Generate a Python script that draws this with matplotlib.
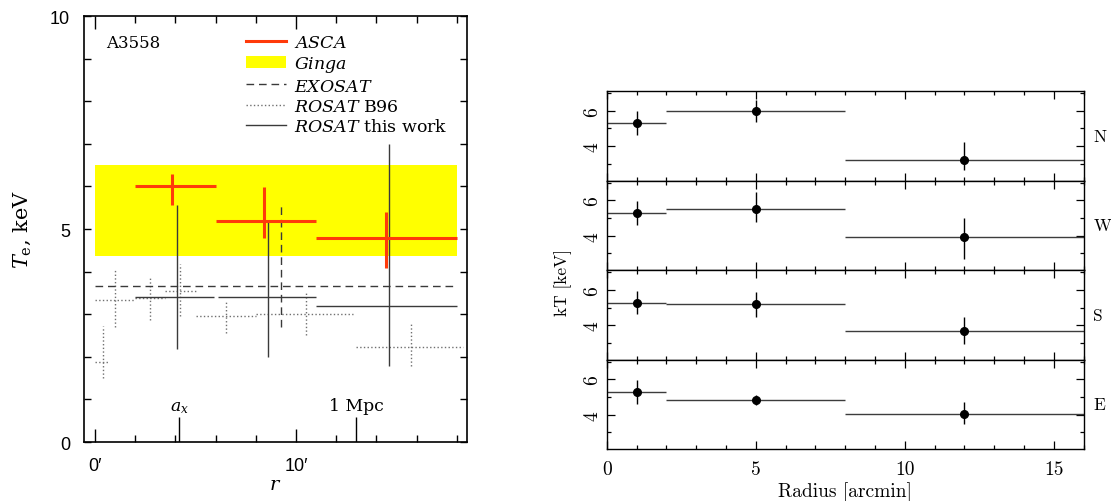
import matplotlib
matplotlib.use("Agg")
import matplotlib.pyplot as plt
import numpy as np
from matplotlib.lines import Line2D
from matplotlib.patches import Patch

plt.rcParams["mathtext.fontset"] = "dejavuserif"

# ---- left panel: A3558 temperature profiles (r in arcmin, T in keV) ----
# ASCA
asca_r = [3.85, 8.4, 14.45]
asca_rlo = [2.0, 6.0, 11.0]
asca_rhi = [6.0, 11.0, 18.0]
asca_t = [6.0, 5.18, 4.78]
asca_tlo = [5.57, 4.78, 4.08]
asca_thi = [6.29, 5.98, 5.39]

# Ginga band
ginga_r = [0.0, 18.0]
ginga_tlo = 4.37
ginga_thi = 6.5

# EXOSAT
exo_r = [9.25]
exo_rlo = [0.0]
exo_rhi = [18.0]
exo_t = [3.67]
exo_tlo = [2.69]
exo_thi = [5.63]

# ROSAT, B96
b96_r = [0.4, 1.0, 2.75, 4.23, 6.5, 10.5, 15.7]
b96_rlo = [0.0, 0.0, 2.0, 3.48, 5.0, 8.0, 13.0]
b96_rhi = [0.66, 2.0, 3.48, 5.0, 8.0, 12.85, 18.3]
b96_t = [1.87, 3.33, 3.37, 3.54, 2.95, 3.0, 2.22]
b96_tlo = [1.50, 2.71, 2.87, 2.96, 2.57, 2.52, 1.79]
b96_thi = [2.72, 4.04, 3.90, 4.19, 3.32, 3.55, 2.81]

# ROSAT, this work
ros_r = [4.1, 8.6, 14.6]
ros_rlo = [2.0, 6.1, 11.0]
ros_rhi = [5.9, 11.0, 18.0]
ros_t = [3.40, 3.40, 3.19]
ros_tlo = [2.18, 1.99, 1.79]
ros_thi = [5.57, 5.16, 7.0]

# scale markers
marker_r = [4.2, 13.0]
marker_labels = [r"$a_x$", "1 Mpc"]

# ---- right panel: sector profiles ----
sectors = ["N", "W", "S", "E"]
rad = [1, 5, 12]
rad_lo = [0, 2, 8]
rad_hi = [2, 8, 16]
kt = {
    "N": [5.29, 5.97, 3.25],
    "W": [5.27, 5.53, 3.91],
    "S": [5.28, 5.19, 3.68],
    "E": [5.29, 4.81, 4.02],
}
kt_lo = {
    "N": [4.63, 5.35, 2.63],
    "W": [4.63, 4.78, 2.67],
    "S": [4.62, 4.44, 2.93],
    "E": [4.63, 4.53, 3.45],
}
kt_hi = {
    "N": [5.97, 6.62, 4.26],
    "W": [5.97, 6.49, 5.0],
    "S": [5.94, 5.85, 4.47],
    "E": [5.97, 5.1, 4.73],
}


def asym(center, lo, hi):
    c = np.array(center)
    return [c - np.array(lo), np.array(hi) - c]


def cross(ax, r, rlo, rhi, t, tlo, thi, ls="-", **kw):
    eb = ax.errorbar(r, t, xerr=asym(r, rlo, rhi), yerr=asym(t, tlo, thi),
                     fmt="none", capsize=0, **kw)
    for lc in eb.lines[2]:
        lc.set_linestyle(ls)
    return eb


fig = plt.figure(figsize=(11.11, 5.02), dpi=100)

ax = fig.add_axes([0.0756, 0.1175, 0.3447, 0.8486])
asca_col = "#ff3a0a"
dash = (0, (5.5, 3.5))

ax.fill_between(ginga_r, ginga_tlo, ginga_thi, color="#ffff00", lw=0, zorder=1)
cross(ax, b96_r, b96_rlo, b96_rhi, b96_t, b96_tlo, b96_thi, ls=":",
      ecolor="#707070", elinewidth=1.0, zorder=2)
cross(ax, ros_r, ros_rlo, ros_rhi, ros_t, ros_tlo, ros_thi,
      ecolor="#3a3a3a", elinewidth=1.0, zorder=3)
cross(ax, exo_r, exo_rlo, exo_rhi, exo_t, exo_tlo, exo_thi, ls=dash,
      ecolor="#3a3a3a", elinewidth=1.0, zorder=3)
cross(ax, asca_r, asca_rlo, asca_rhi, asca_t, asca_tlo, asca_thi,
      ecolor=asca_col, elinewidth=2.2, zorder=4)

ax.vlines(marker_r, 0, 0.58, color="black", lw=1.0)
for xr, lab in zip(marker_r, marker_labels):
    ax.text(xr, 0.75, lab, ha="center", va="baseline", fontsize=12.4,
            family="DejaVu Serif")

ax.text(0.55, 9.39, "A3558", fontsize=12, family="DejaVu Serif", va="center")

handles = [
    Line2D([], [], color=asca_col, lw=2.2),
    Patch(facecolor="#ffff00", edgecolor="none"),
    Line2D([], [], color="#3a3a3a", lw=1.0, ls=dash),
    Line2D([], [], color="#707070", lw=1.0, ls=":"),
    Line2D([], [], color="#3a3a3a", lw=1.0),
]
labels = [r"$\mathit{ASCA}$", r"$\mathit{Ginga}$", r"$\mathit{EXOSAT}$",
          r"$\mathit{ROSAT}$ B96", r"$\mathit{ROSAT}$ this work"]
ax.legend(handles, labels, loc="upper left", bbox_to_anchor=(0.422, 0.958),
          frameon=False, borderpad=0, borderaxespad=0, handlelength=2.3,
          handletextpad=0.5, labelspacing=0.19,
          prop={"family": "DejaVu Serif", "size": 12.5})

ax.set_xlim(-0.55, 18.5)
ax.set_ylim(0, 10)
ax.set_xticks([0, 10])
ax.set_xticklabels(["0\u2032", "10\u2032"])
ax.set_xticks(np.arange(2, 19, 2), minor=True)
ax.set_yticks([0, 5, 10])
ax.set_yticks(np.arange(1, 10), minor=True)
ax.tick_params(which="both", direction="in", top=True, right=True, width=1.0)
ax.tick_params(axis="x", which="major", length=9.4, pad=11)
ax.tick_params(axis="x", which="minor", length=5)
ax.tick_params(axis="y", which="both", length=5, pad=10)
for lab in ax.get_xticklabels() + ax.get_yticklabels():
    lab.set_family(["Liberation Sans", "DejaVu Sans"])
    lab.set_fontsize(13)
for s in ax.spines.values():
    s.set_linewidth(1.2)
ax.set_xlabel(r"$r$", fontsize=14, labelpad=0)
ax.set_ylabel(r"$T_{\rm e}$, keV", fontsize=15, family="DejaVu Serif", labelpad=12)

# ---- right panels ----
h = 0.1783
for i, sec in enumerate(sectors):
    a = fig.add_axes([0.5461, 0.103 + (3 - i) * h, 0.4293, h])
    a.errorbar(rad, kt[sec], xerr=asym(rad, rad_lo, rad_hi), fmt="none",
               ecolor="#3c3c3c", elinewidth=1.0, capsize=0)
    a.errorbar(rad, kt[sec], yerr=asym(kt[sec], kt_lo[sec], kt_hi[sec]),
               fmt="o", color="black", ms=5.5, elinewidth=1.0, capsize=0)
    a.set_xlim(0, 16)
    a.set_ylim(2.05, 7.1)
    a.set_xticks([0, 5, 10, 15])
    a.set_xticks(np.arange(0, 17), minor=True)
    a.set_yticks([4, 6])
    a.set_yticks([3, 5, 7], minor=True)
    a.tick_params(which="both", direction="in", top=True, right=True, width=0.9)
    a.tick_params(which="major", length=6)
    a.tick_params(which="minor", length=3.2)
    a.tick_params(axis="y", labelsize=14, pad=4)
    for lab in a.get_yticklabels():
        lab.set_rotation(90)
        lab.set_va("center")
        lab.set_family("cmr10")
    if i < 3:
        a.tick_params(axis="x", labelbottom=False)
    else:
        a.tick_params(axis="x", labelsize=14, pad=8)
        for lab in a.get_xticklabels():
            lab.set_family("cmr10")
        a.set_xlabel("Radius [arcmin]", fontsize=14, family="cmr10", labelpad=2)
    for s in a.spines.values():
        s.set_linewidth(1.0)
    a.text(1.02, 0.5, sec, transform=a.transAxes, fontsize=12.5,
           family="cmr10", va="center", ha="left")

fig.text(0.507, 0.438, "kT [keV]", rotation=90, fontsize=12.5, family="cmr10",
         ha="center", va="center")

fig.savefig("out.png", dpi=100)
